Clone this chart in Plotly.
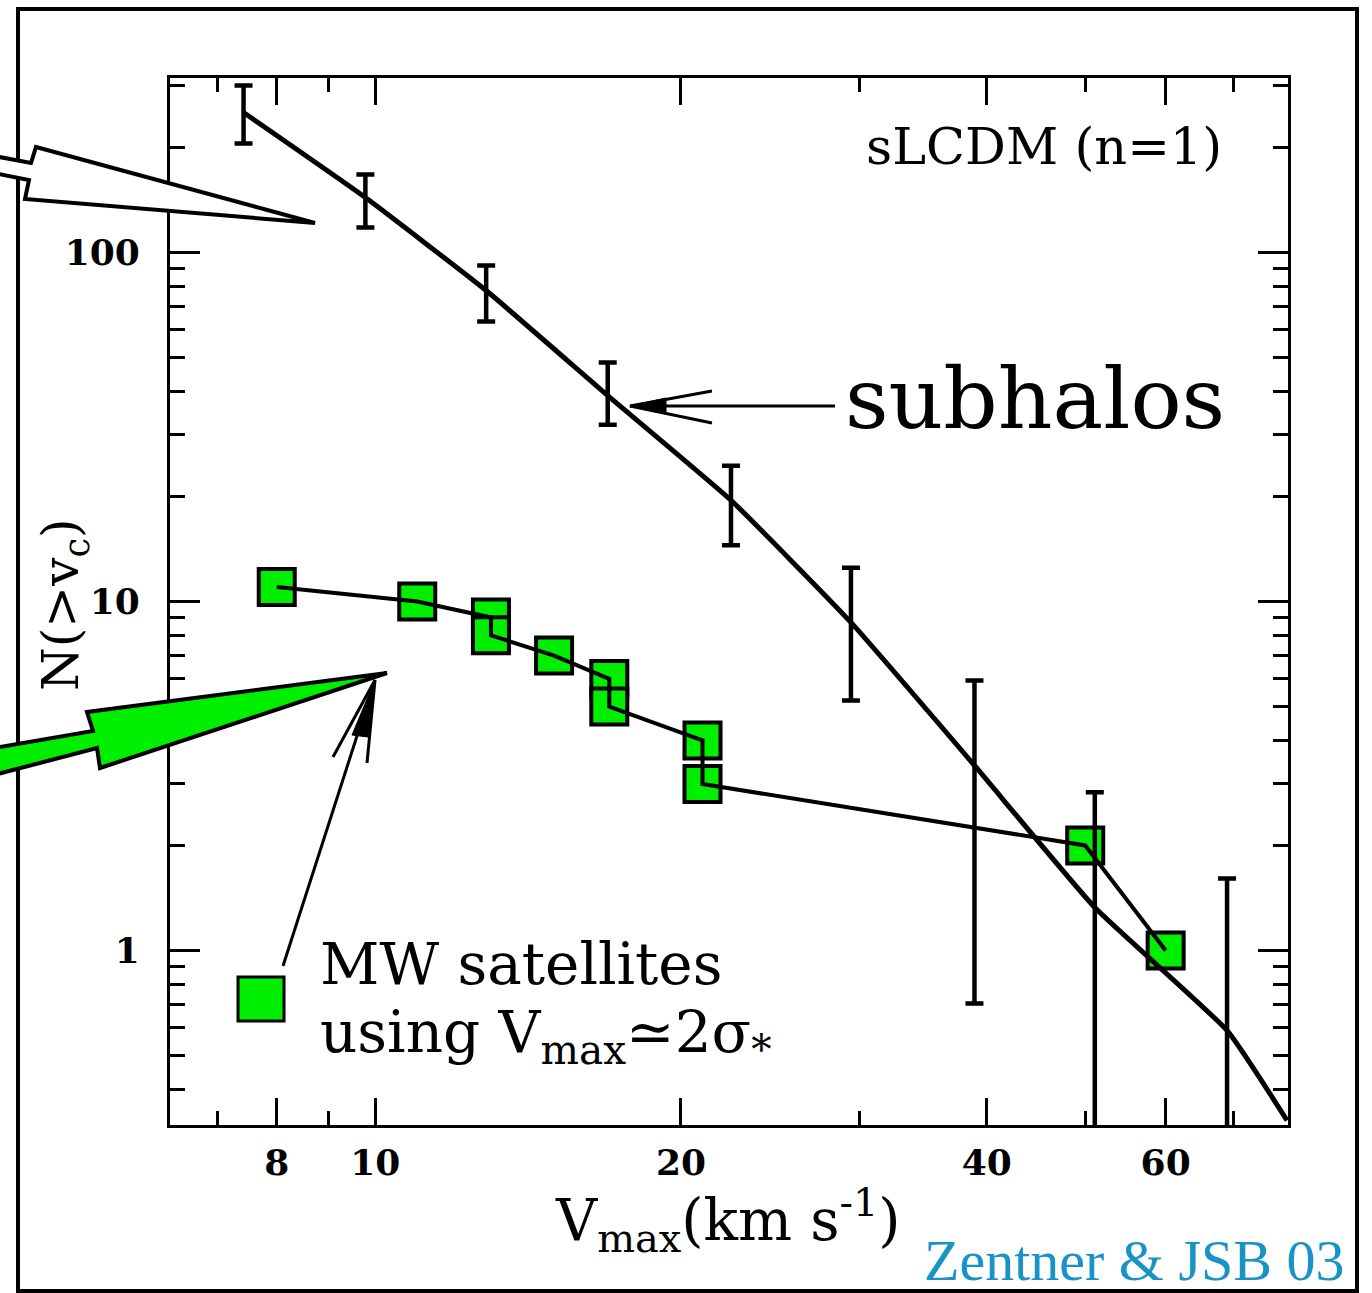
import plotly.graph_objects as go

# ---------------- data ----------------
# subhalo curve (sLCDM, n=1)
sub_curve_v = [7.42, 9.78, 12.86, 16.94, 22.4, 29.4, 38.9, 51.1, 68.96, 79.0]
sub_curve_n = [251.8, 143.7, 77.8, 38.9, 19.5, 8.71, 3.39, 1.328, 0.590, 0.326]
# subhalo error bars
err_v = [7.42, 9.78, 12.86, 16.94, 22.4, 29.4, 38.9, 51.1, 68.96]
err_n = [251.8, 143.7, 77.8, 38.9, 19.5, 8.71, 3.39, 1.328, 0.590]
err_hi = [301.0, 167.3, 91.8, 48.4, 24.5, 12.5, 5.94, 2.84, 1.608]
err_lo = [205.3, 117.9, 63.4, 32.1, 14.5, 5.2, 0.705, 0.15, 0.12]
# MW satellites
mw_v = [8, 11, 13, 13, 15, 17, 17, 21, 21, 50, 60]
mw_n = [11, 10, 9, 8, 7, 6, 5, 4, 3, 2, 1]

x_tickvals = [8, 10, 20, 40, 60]
x_ticktext = ["8", "10", "20", "40", "60"]
x_minor = [7, 9, 30, 50, 70]
y_tickvals = [1, 10, 100]
y_ticktext = ["1", "10", "100"]
y_minor = [0.4, 0.5, 0.6, 0.7, 0.8, 0.9, 2, 3, 4, 5, 6, 7, 8, 9,
           20, 30, 40, 50, 60, 70, 80, 90, 200, 300]

# ---------------- layout helpers ----------------
W, H = 1372, 1293
L, R, T, B = 170, 1288, 78, 1125
GREEN = "#00ee00"
FONT = "DejaVu Serif"


def px(x):
    return (x - L) / (R - L)


def py(y):
    return (B - y) / (B - T)


def path(points, close=True):
    s = "M " + " L ".join(f"{px(x):.5f},{py(y):.5f}" for x, y in points)
    return s + (" Z" if close else "")


fig = go.Figure()

fig.add_trace(go.Scatter(
    x=mw_v, y=mw_n, mode="markers",
    marker=dict(symbol="square", size=36, color=GREEN,
                line=dict(color="black", width=4)),
    showlegend=False, hoverinfo="skip"))
fig.add_trace(go.Scatter(
    x=mw_v, y=mw_n, mode="lines",
    line=dict(color="black", width=4),
    showlegend=False, hoverinfo="skip"))

fig.add_trace(go.Scatter(
    x=err_v, y=err_n, mode="markers",
    marker=dict(size=1, color="rgba(0,0,0,0)"),
    error_y=dict(type="data", symmetric=False,
                 array=[h - n for h, n in zip(err_hi, err_n)],
                 arrayminus=[n - l for n, l in zip(err_n, err_lo)],
                 color="black", thickness=4.5, width=9),
    showlegend=False, hoverinfo="skip"))
fig.add_trace(go.Scatter(
    x=sub_curve_v, y=sub_curve_n, mode="lines",
    line=dict(color="black", width=5, shape="spline", smoothing=0.4),
    showlegend=False, hoverinfo="skip"))

shapes = []
# outer frame
shapes.append(dict(type="rect", xref="paper", yref="paper",
                   x0=px(18), x1=px(1357), y0=py(1291), y1=py(9),
                   line=dict(color="black", width=4), layer="above"))
# white arrow
shapes.append(dict(type="path", xref="paper", yref="paper",
                   path=path([(-6, 156), (31, 163), (36, 147), (315, 223),
                              (25, 199), (29, 180), (-6, 173)]),
                   fillcolor="white", line=dict(color="black", width=4)))
# green arrow
shapes.append(dict(type="path", xref="paper", yref="paper",
                   path=path([(-6, 748), (93, 731), (87, 712), (387, 673),
                              (100, 768), (97, 748), (-6, 775)]),
                   fillcolor=GREEN, line=dict(color="black", width=4)))
# thin arrow from legend
shapes.append(dict(type="path", xref="paper", yref="paper",
                   path=path([(283, 966), (375, 680)], close=False),
                   line=dict(color="black", width=3)))
shapes.append(dict(type="path", xref="paper", yref="paper",
                   path=path([(333, 757), (375, 680), (367, 763)], close=False),
                   line=dict(color="black", width=3)))
shapes.append(dict(type="path", xref="paper", yref="paper",
                   path=path([(375, 680), (352, 735), (368, 737)]),
                   fillcolor="black", line=dict(color="black", width=1)))
# subhalos arrow
shapes.append(dict(type="path", xref="paper", yref="paper",
                   path=path([(835, 406), (630, 406)], close=False),
                   line=dict(color="black", width=3)))
shapes.append(dict(type="path", xref="paper", yref="paper",
                   path=path([(712, 391), (630, 406), (712, 423)], close=False),
                   line=dict(color="black", width=3)))
shapes.append(dict(type="path", xref="paper", yref="paper",
                   path=path([(630, 406), (666, 398), (666, 414)]),
                   fillcolor="black", line=dict(color="black", width=1)))
# legend square
shapes.append(dict(type="rect", xref="paper", yref="paper",
                   x0=px(238), x1=px(284), y0=py(1021), y1=py(977),
                   fillcolor=GREEN, line=dict(color="black", width=3)))

ann = []
ann.append(dict(text="sLCDM (n=1)", x=px(1224), y=py(147), xref="paper", yref="paper",
                xanchor="right", yanchor="middle", showarrow=False,
                font=dict(family=FONT, size=51, color="black")))
ann.append(dict(text="subhalos", x=px(843), y=py(398), xref="paper", yref="paper",
                xanchor="left", yanchor="middle", showarrow=False,
                font=dict(family=FONT, size=85, color="black")))
ann.append(dict(text="MW satellites", x=px(318), y=py(964), xref="paper", yref="paper",
                xanchor="left", yanchor="middle", showarrow=False,
                font=dict(family=FONT, size=58, color="black")))
ann.append(dict(text="using V<sub>max</sub>≃2σ<sub>*</sub>", x=px(318), y=py(1036),
                xref="paper", yref="paper",
                xanchor="left", yanchor="middle", showarrow=False,
                font=dict(family=FONT, size=58, color="black")))
ann.append(dict(text="V<sub>max</sub>(km s<sup>-1</sup>)", x=px(728), y=py(1220),
                xref="paper", yref="paper",
                xanchor="center", yanchor="middle", showarrow=False,
                font=dict(family=FONT, size=57, color="black")))
ann.append(dict(text="N(>v<sub>c</sub>)", x=px(64), y=py(605),
                xref="paper", yref="paper", textangle=-90,
                xanchor="center", yanchor="middle", showarrow=False,
                font=dict(family=FONT, size=50, color="black")))
ann.append(dict(text="Zentner & JSB 03", x=px(1346), y=py(1260),
                xref="paper", yref="paper",
                xanchor="right", yanchor="middle", showarrow=False,
                font=dict(family="Liberation Serif", size=58, color="#1793c8")))

axis_common = dict(showgrid=False, zeroline=False, showline=True,
                   linecolor="black", linewidth=3, mirror="allticks",
                   ticks="inside", tickcolor="black", tickwidth=3,
                   tickfont=dict(family=FONT, size=36, color="black", weight="bold"))

fig.update_layout(
    width=W, height=H,
    margin=dict(l=L, r=W - R, t=T, b=H - B),
    paper_bgcolor="white", plot_bgcolor="white",
    shapes=shapes, annotations=ann,
    xaxis=dict(type="log", range=[0.798, 1.8986],
               tickmode="array", tickvals=x_tickvals, ticktext=x_ticktext,
               ticklen=27, ticklabelstandoff=4,
               minor=dict(tickmode="array", tickvals=x_minor, ticks="inside",
                          ticklen=14, tickwidth=3, tickcolor="black"),
               **axis_common),
    yaxis=dict(type="log", range=[-0.5, 2.5],
               tickmode="array", tickvals=y_tickvals, ticktext=y_ticktext,
               ticklen=30, ticklabelstandoff=20,
               minor=dict(tickmode="array", tickvals=y_minor, ticks="inside",
                          ticklen=15, tickwidth=3, tickcolor="black"),
               **axis_common),
)

fig.write_html("out.html")
